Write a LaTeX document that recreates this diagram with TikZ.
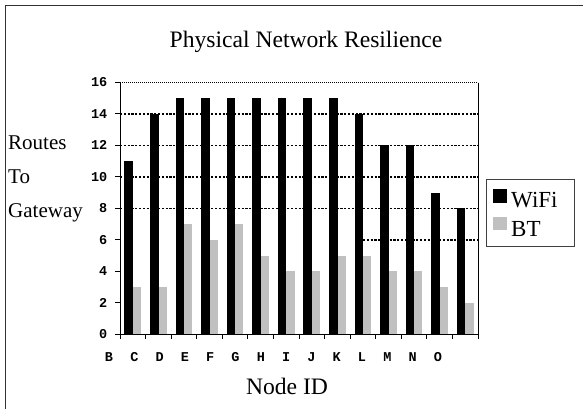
\documentclass[tikz,border=0pt]{standalone}
\usepackage{fontspec}
\setmainfont{Liberation Serif}
\newfontfamily\monob{Liberation Mono}
\definecolor{barGray}{RGB}{192,192,192}
\begin{document}
\begin{tikzpicture}[x=1pt,y=-1pt,
  gridline/.style={line width=1.3pt, dash pattern=on 2.2pt off 1.6pt},
  topline/.style={line width=0.6pt, dash pattern=on 1.2pt off 0.8pt},
  axisline/.style={line width=0.9pt},
  wifibar/.style={fill=black},
  btbar/.style={fill=barGray},
  ylab/.style={anchor=east,font=\monob\bfseries\fontsize{13.5}{14}\selectfont,inner sep=0pt},
  xlab/.style={anchor=center,font=\monob\bfseries\fontsize{13.5}{14}\selectfont,inner sep=0pt},
  serif/.style={font=\fontsize{21}{24}\selectfont,inner sep=0pt},
  bigserif/.style={font=\fontsize{23.6}{26}\selectfont,inner sep=0pt},
  legtext/.style={anchor=base west,font=\fontsize{23}{26}\selectfont,inner sep=0pt}]
\useasboundingbox (0,0) rectangle (583,408);
\fill[white] (0,0) rectangle (583,408);
% outer frame (left and top visible)
\coordinate (fbl) at (5,409);
\coordinate (ftl) at (5,5);
\coordinate (ftr) at (584,5);
\draw[line width=0.9pt, black!80] (fbl) -- (ftl) -- (ftr);
% title
\node[bigserif, anchor=base] (title) at (306,47) {Physical Network Resilience};
% grid lines
\coordinate (g16a) at (120,82.5); \coordinate (g16b) at (478,82.5);
\draw[topline] (g16a) -- (g16b);
\foreach \v in {8,10,12,14}{
  \coordinate (ga\v) at (120,334.3-15.74*\v);
  \coordinate (gb\v) at (478,334.3-15.74*\v);
  \draw[gridline] (ga\v) -- (gb\v);
}
\coordinate (ga6) at (363,334.3-15.74*6);
\coordinate (gb6) at (478,334.3-15.74*6);
\draw[gridline] (ga6) -- (gb6);
% bars
\foreach \w/\b [count=\k from 0] in {11/3,14/3,15/7,15/6,15/7,15/5,15/4,15/4,15/5,14/5,12/4,12/4,9/3,8/2}{
  \fill[wifibar] (120+25.57*\k+4.4,334.3) rectangle ++(8.6,-15.74*\w);
  \fill[btbar] (120+25.57*\k+13,334.3) rectangle ++(8.2,-15.74*\b);
}
% axes
\coordinate (o) at (120,334.3);
\coordinate (ytop) at (120,82.5);
\coordinate (xend) at (478,334.3);
\coordinate (rtop) at (478,82.5);
\draw[axisline] (ytop) -- (o) -- (xend) -- (rtop);
% y ticks and labels
\foreach \v in {0,2,...,16}{
  \coordinate (yt\v) at (120,334.3-15.74*\v);
  \draw[axisline] (yt\v) -- ++(-5,0);
  \node[ylab] (yl\v) at (107.5,334.3-15.74*\v) {\v};
}
% x ticks
\foreach \k in {0,...,14}{
  \coordinate (xt\k) at (120+25.57*\k,334.3);
  \draw[axisline] (xt\k) -- ++(0,5);
}
% x labels
\foreach \L [count=\k from 0] in {B,C,D,E,F,G,H,I,J,K,L,M,N,O}{
  \node[xlab] (xl\L) at (109+25.3*\k,357.5) {\L};
}
% axis titles
\node[serif, anchor=base west] (yt1) at (8,149) {Routes};
\node[serif, anchor=base west] (yt2) at (8,183) {To};
\node[serif, anchor=base west] (yt3) at (8,217) {Gateway};
\node[bigserif, anchor=base] (xtitle) at (287,394) {Node ID};
% legend
\node[draw=black!75, line width=0.8pt, minimum width=87.3pt, minimum height=67.7pt, inner sep=0pt] (legend) at (530.35,212.85) {};
\fill[black] (492.7,189.3) rectangle (506.7,202.7);
\fill[barGray] (492.7,217) rectangle (506.7,230.4);
\node[legtext] (lwifi) at (511,207.3) {WiFi};
\node[legtext] (lbt) at (511,236) {BT};
\end{tikzpicture}
\end{document}
